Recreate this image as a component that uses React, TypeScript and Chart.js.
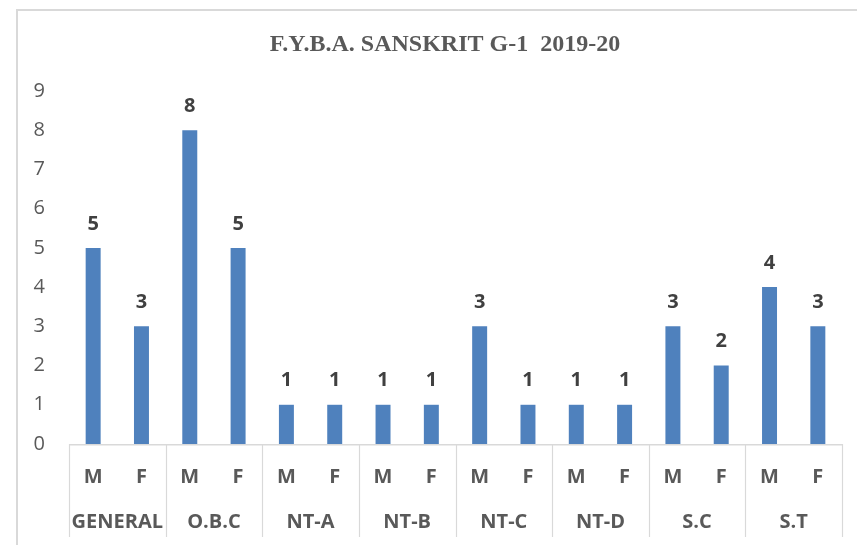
import React, { useEffect, useRef } from "react";
import { Chart, registerables } from "chart.js";

Chart.register(...registerables);

const groups = ["GENERAL", "O.B.C", "NT-A", "NT-B", "NT-C", "NT-D", "S.C", "S.T"];
const sexes = ["M", "F"];
const values = [5, 3, 8, 5, 1, 1, 1, 1, 3, 1, 1, 1, 3, 2, 4, 3];
const yTicks = [0, 1, 2, 3, 4, 5, 6, 7, 8, 9];
const title = "F.Y.B.A. SANSKRIT G-1  2019-20";

const FONT = "'Open Sans', 'Noto Sans', sans-serif";
const TITLE_FONT = "'Liberation Serif', 'Times New Roman', serif";
const GRAY = "#595959";
const LINE = "#d9d9d9";

const decorPlugin = {
  id: "decor",
  afterDraw(chart: any) {
    const ctx = chart.ctx;
    const x = chart.scales.x;
    const area = chart.chartArea;
    ctx.save();
    // outer border
    ctx.strokeStyle = LINE;
    ctx.lineWidth = 2;
    ctx.beginPath();
    ctx.moveTo(17, chart.height + 10);
    ctx.lineTo(17, 10);
    ctx.lineTo(chart.width + 10, 10);
    ctx.stroke();
    // title (centred on the full original chart frame, which extends past the view)
    ctx.fillStyle = GRAY;
    ctx.font = `bold 24px ${TITLE_FONT}`;
    ctx.textAlign = "center";
    ctx.textBaseline = "middle";
    ctx.fillText(title, 445, 45);
    // axis line
    ctx.lineWidth = 1.5;
    ctx.beginPath();
    ctx.moveTo(area.left, area.bottom + 0.75);
    ctx.lineTo(area.right, area.bottom + 0.75);
    ctx.stroke();
    // group separators and labels
    const n = chart.data.labels.length;
    const step = n > 1 ? x.getPixelForValue(1) - x.getPixelForValue(0) : 0;
    const bottomY = area.bottom + 93;
    ctx.lineWidth = 1.2;
    for (let g = 0; g <= groups.length; g++) {
      const idx = g * sexes.length;
      const px = Math.round(x.getPixelForValue(0) - step / 2 + idx * step) + 0.5;
      ctx.beginPath();
      ctx.moveTo(px, area.bottom);
      ctx.lineTo(px, bottomY);
      ctx.stroke();
    }
    ctx.fillStyle = GRAY;
    ctx.font = `bold 20px ${FONT}`;
    groups.forEach((g, i) => {
      const start = x.getPixelForValue(i * sexes.length) - step / 2;
      const end = start + step * sexes.length;
      ctx.fillText(g, (start + end) / 2, area.bottom + 78);
    });
    // data labels
    const meta = chart.getDatasetMeta(0);
    ctx.fillStyle = "#404040";
    ctx.font = `bold 20px ${FONT}`;
    meta.data.forEach((bar: any, i: number) => {
      ctx.fillText(String(chart.data.datasets[0].data[i]), bar.x, bar.y - 24);
    });
    ctx.restore();
  },
};

export default function App() {
  const ref = useRef<HTMLCanvasElement>(null);
  useEffect(() => {
    if (!ref.current) return;
    const labels: string[] = [];
    groups.forEach(() => sexes.forEach((s) => labels.push(s)));
    const chart = new Chart(ref.current, {
      type: "bar",
      data: {
        labels,
        datasets: [
          {
            data: values,
            backgroundColor: "#4F81BD",
            barPercentage: 0.31,
            categoryPercentage: 1,
          },
        ],
      },
      options: {
        responsive: false,
        animation: false,
        layout: { padding: { left: 16, right: 15, top: 91, bottom: 0 } },
        plugins: {
          legend: { display: false },
          tooltip: { enabled: false },
          title: { display: false },
        },
        scales: {
          x: {
            grid: { display: false, drawTicks: false },
            border: { display: false },
            ticks: {
              color: GRAY,
              font: { family: FONT, size: 20, weight: "bold" },
              padding: 21,
              maxRotation: 0,
              autoSkip: false,
            },
            afterFit(scale: any) {
              scale.height = 101;
            },
          },
          y: {
            min: 0,
            max: 9,
            grid: { display: false, drawTicks: false },
            border: { display: false },
            afterBuildTicks(scale: any) {
              scale.ticks = yTicks.map((v) => ({ value: v }));
            },
            ticks: {
              color: GRAY,
              font: { family: FONT, size: 20 },
              padding: 24,
            },
            afterFit(scale: any) {
              scale.width = 53;
            },
          },
        },
      },
      plugins: [decorPlugin],
    });
    return () => chart.destroy();
  }, []);
  return (
    <div style={{ position: "fixed", left: 0, top: 0, width: 857, height: 545, overflow: "hidden", background: "#fff" }}>
      <canvas ref={ref} width={857} height={545} style={{ display: "block" }} />
    </div>
  );
}
